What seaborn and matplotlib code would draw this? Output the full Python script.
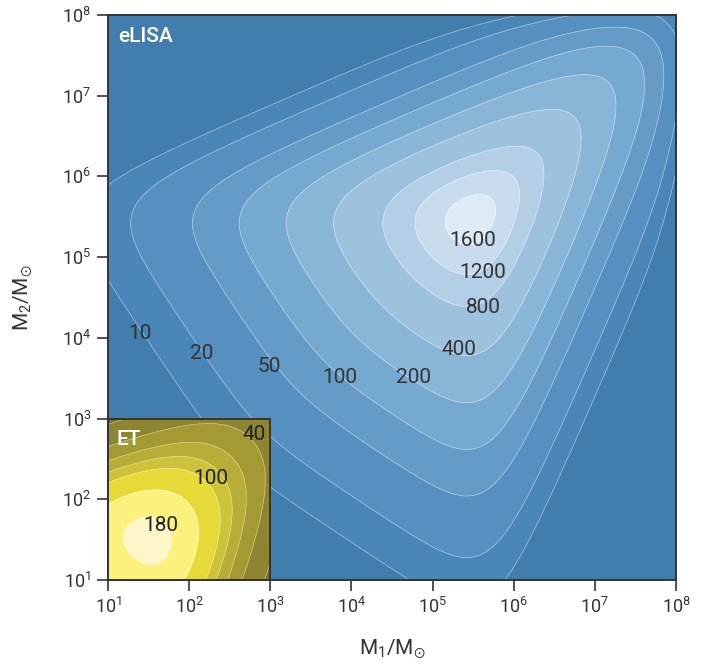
import numpy as np
import matplotlib
matplotlib.use("Agg")
import matplotlib.pyplot as plt
import seaborn as sns

# ---- contour levels and labels ------------------------------------------
elisa_levels = [10, 20, 50, 100, 200, 400, 800, 1200, 1600]
et_levels = [20, 40, 60, 80, 100, 140, 180]
et_labelled = [40, 100, 180]

# label anchors, given as (log10 M1, log10 M2)
elisa_label_at = [(1.39, 4.05), (2.15, 3.81), (2.99, 3.64), (3.86, 3.51),
                  (4.77, 3.51), (5.32, 3.85), (5.63, 4.38), (5.62, 4.81),
                  (5.49, 5.20)]
et_label_at = [(2.80, 2.80), (2.27, 2.26), (1.65, 1.67)]

tick_exponents = [1, 2, 3, 4, 5, 6, 7, 8]

# ---- SNR response parameters --------------------------------------------
# log10 SNR = ref + beta*(log10 Mc - mc_ref)
#             - k_hi/n_hi * log10(1 + 10**(n_hi*(log10 M - knee)))
#             - k_cut/n_cut * log10(1 + 10**(n_cut*(log10 M - m_cut)))
# with knee = m_knee + knee_shift*(1 - 4*eta)
elisa_ref, elisa_mc_ref, elisa_beta = 1.0, 2.48, 0.87
elisa_k_hi, elisa_n_hi, elisa_m_knee = 1.55, 1.8, 5.72
elisa_k_cut, elisa_n_cut, elisa_m_cut = 2.5, 2.5, 8.05

et_ref, et_mc_ref, et_beta = 1.545, 0.0, 0.70
et_k_hi, et_n_hi, et_m_knee, et_knee_shift = 1.5, 1.5, 1.84, 0.12


def log_snr(lu, lv, ref, mc_ref, beta, k_hi, n_hi, m_knee, knee_shift=0.0,
            k_cut=0.0, n_cut=1.0, m_cut=99.0):
    m1, m2 = 10.0 ** lu, 10.0 ** lv
    mtot = m1 + m2
    eta = m1 * m2 / mtot ** 2
    lmc = np.log10((m1 * m2) ** 0.6 / mtot ** 0.2)
    lm = np.log10(mtot)
    knee = m_knee + knee_shift * (1.0 - 4.0 * eta)
    out = ref + beta * (lmc - mc_ref)
    out -= k_hi / n_hi * np.log10(1.0 + 10.0 ** (n_hi * (lm - knee)))
    out -= k_cut / n_cut * np.log10(1.0 + 10.0 ** (n_cut * (lm - m_cut)))
    return out


# ---- style ---------------------------------------------------------------
sns.set_theme(style="ticks")
plt.rcParams["font.family"] = ["Roboto", "DejaVu Sans"]
plt.rcParams["mathtext.fontset"] = "custom"
plt.rcParams["mathtext.rm"] = "Roboto"
plt.rcParams["mathtext.it"] = "Roboto:italic"
plt.rcParams["mathtext.bf"] = "Roboto:bold"

ink = "#333333"
blue_bands = sns.color_palette(["#417dad", "#4a86b7", "#5690c0", "#659cc7",
                                "#76a9cf", "#89b6d7", "#9dc2de", "#b2cfe6",
                                "#c8dcee", "#deebf6"])
yellow_bands = sns.color_palette(["#7a7032", "#8e8533", "#a39a34", "#b8ad36",
                                  "#cec23a", "#e6da38", "#fbf17c", "#fdf6c8"])

fig = plt.figure(figsize=(7.12, 6.64), dpi=100)
ax = fig.add_axes([108 / 712, 84 / 664, 568 / 712, 565 / 664])

# ---- eLISA map -----------------------------------------------------------
lu = np.linspace(1, 8, 600)
LU, LV = np.meshgrid(lu, lu)
snr = 10 ** log_snr(LU, LV, elisa_ref, elisa_mc_ref, elisa_beta,
                    elisa_k_hi, elisa_n_hi, elisa_m_knee, 0.0,
                    elisa_k_cut, elisa_n_cut, elisa_m_cut)
X, Y = 10 ** LU, 10 ** LV
ax.contourf(X, Y, snr, levels=[0] + elisa_levels + [1e7], colors=blue_bands)
ax.contour(X, Y, snr, levels=elisa_levels, colors="white",
           linewidths=0.5, alpha=0.5)
for lev, (a, b) in zip(elisa_levels, elisa_label_at):
    ax.text(10 ** a, 10 ** b, f"{lev}", ha="center", va="center",
            fontsize=15, color=ink)

ax.set_xscale("log")
ax.set_yscale("log")
ax.set_xlim(10, 1e8)
ax.set_ylim(10, 1e8)
ticks = [10.0 ** k for k in tick_exponents]
ax.set_xticks(ticks)
ax.set_yticks(ticks)
ax.minorticks_off()
ax.tick_params(direction="out", length=8, width=1.2, color=ink,
               labelsize=13, labelcolor=ink, pad=4)
for sp in ax.spines.values():
    sp.set_color(ink)
    sp.set_linewidth(1.4)
ax.set_xlabel(r"$\mathregular{M_1/M_{\odot}}$", fontsize=15, color=ink,
              labelpad=15)
ax.set_ylabel(r"$\mathregular{M_2/M_{\odot}}$", fontsize=15, color=ink,
              labelpad=20)
ax.text(0.018, 0.978, "eLISA", transform=ax.transAxes, ha="left", va="top",
        color="white", fontsize=15, fontweight="medium")

# ---- ET inset ------------------------------------------------------------
ax_in = ax.inset_axes([0, 0, 2 / 7, 2 / 7])
lu_et = np.linspace(1, 3, 400)
EU, EV = np.meshgrid(lu_et, lu_et)
snr_et = 10 ** log_snr(EU, EV, et_ref, et_mc_ref, et_beta,
                       et_k_hi, et_n_hi, et_m_knee, et_knee_shift)
ax_in.contourf(10 ** EU, 10 ** EV, snr_et, levels=[0] + et_levels + [1e5],
               colors=yellow_bands)
ax_in.contour(10 ** EU, 10 ** EV, snr_et, levels=et_levels,
              colors="white", linewidths=0.5, alpha=0.45)
for lev, (a, b) in zip(et_labelled, et_label_at):
    ax_in.text(10 ** a, 10 ** b, f"{lev}", ha="center", va="center",
               fontsize=15, color="#222222")
ax_in.set_xscale("log")
ax_in.set_yscale("log")
ax_in.set_xlim(10, 1e3)
ax_in.set_ylim(10, 1e3)
ax_in.set_xticks([])
ax_in.set_yticks([])
ax_in.minorticks_off()
for sp in ax_in.spines.values():
    sp.set_color(ink)
    sp.set_linewidth(1.4)
ax_in.text(0.05, 0.93, "ET", transform=ax_in.transAxes, ha="left", va="top",
           color="white", fontsize=15, fontweight="medium")

fig.savefig("out.png", dpi=100)
